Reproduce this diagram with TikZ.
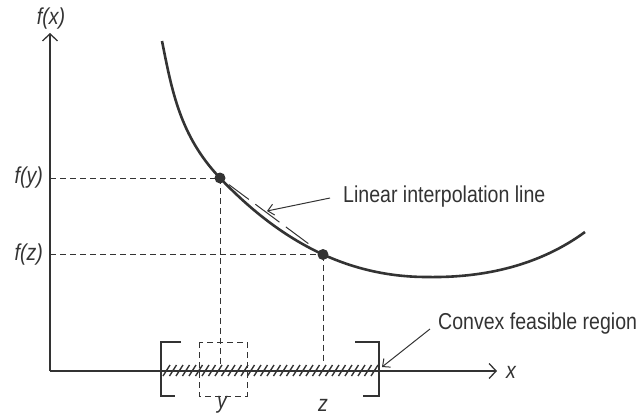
\documentclass[tikz,border=0pt]{standalone}
\usepackage{fontspec}
\setmainfont{Liberation Sans}[FakeStretch=0.85]
\usetikzlibrary{arrows.meta}
\definecolor{ink}{HTML}{333333}
\tikzset{
  axisline/.style={draw=ink, line width=1.3pt, -{Straight Barb[length=7pt,width=15pt,line width=1.3pt]}},
  curveline/.style={draw=ink, line width=2.6pt},
  guide/.style={draw=ink, line width=1pt, dash pattern=on 6pt off 4pt},
  chord/.style={draw=ink, line width=1pt, dash pattern=on 3pt off 8pt on 25pt off 8pt on 30pt off 8pt on 28pt off 30pt},
  ptr/.style={draw=ink, line width=1pt, -{Straight Barb[length=6pt,width=11pt,line width=1pt]}},
  lbl/.style={inner sep=0pt, text=ink, font=\fontsize{23}{27}\selectfont},
  ilbl/.style={lbl, font=\fontsize{23}{27}\selectfont\itshape},
  dot/.style={circle, fill=ink, inner sep=0pt, minimum size=11pt},
  bracketline/.style={draw=ink, line width=1.3pt},
  hatchline/.style={draw=ink, line width=1.4pt}
}
\begin{document}
\begin{tikzpicture}[x=1pt,y=-1pt]
\useasboundingbox (0,0) rectangle (641,416);
% axes
\coordinate (O) at (50,371);
\coordinate (ytip) at (50,33);
\coordinate (xtip) at (497,371);
\draw[axisline] (O) -- (ytip);
\draw[axisline] (O) -- (xtip);
\node[ilbl] (fx) at (51,19) {f(x)};
\node[ilbl] (xl) at (511,372) {x};
% curve
\draw[curveline] (162,41) .. controls (172,91) and (180,136) .. (220,178)
  .. controls (280,241) and (347,277) .. (427,277)
  .. controls (485,278) and (540,265) .. (585,232);
% dots
\node[dot] (py) at (220,178) {};
\node[dot] (pz) at (323,254.5) {};
% guides
\coordinate (ay) at (50,178);
\coordinate (az) at (50,254.5);
\coordinate (by) at (220,364);
\coordinate (bz) at (323,364);
\draw[guide] (ay) -- (py.center);
\draw[guide] (az) -- (pz.center);
\draw[guide] (py.center) -- (by);
\draw[guide] (pz.center) -- (bz);
\node[ilbl, anchor=east] (fy) at (43,178) {f(y)};
\node[ilbl, anchor=east] (fz) at (43,255) {f(z)};
% chord
\draw[chord] (py.center) -- (pz.center);
% dashed box
\draw[guide] (199,342) rectangle (247,396);
% brackets
\draw[bracketline] (181,342) -- (161,342) -- (161,396) -- (175,396);
\draw[bracketline] (355,342) -- (379,342) -- (379,396) -- (363,396);
% hatch
\foreach \i in {0,...,32} \draw[hatchline] (163+\i*6.5,376) -- ++(7,-11);
\node[ilbl] (yl) at (222,405) {y};
\node[ilbl] (zl) at (323,405) {z};
% labels and pointers
\node[lbl, anchor=base west] (lil) at (343,202) {Linear interpolation line};
\node[lbl, anchor=base west] (cfr) at (438,329) {Convex feasible region};
\coordinate (lt) at (330,198);
\coordinate (lh) at (267,211);
\coordinate (ct) at (430,329);
\coordinate (ch) at (382,367);
\draw[ptr] (lt) -- (lh);
\draw[ptr] (ct) -- (ch);
\end{tikzpicture}
\end{document}
